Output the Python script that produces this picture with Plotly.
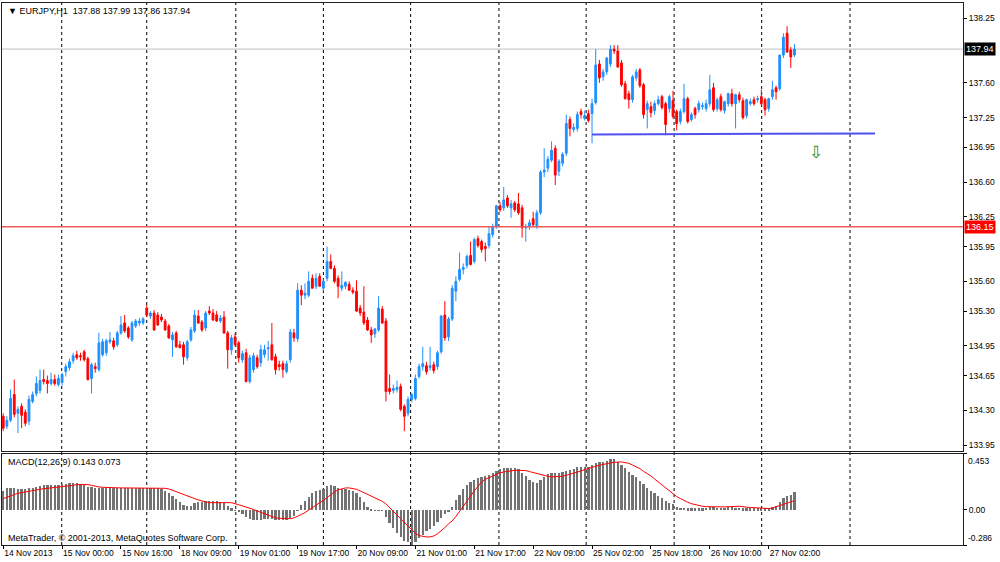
import plotly.graph_objects as go
from plotly.subplots import make_subplots

# EURJPY H1 candles, 14 Nov 2013 08:00 .. 27 Nov 2013 09:00 (bar index 0..215)
open_ = [
    134.24, 134.14, 134.20, 134.46, 134.27, 134.34, 134.28, 134.19, 134.39, 134.47,
    134.50, 134.61, 134.60, 134.57, 134.61, 134.56, 134.58, 134.69, 134.73, 134.80,
    134.86, 134.85, 134.89, 134.82, 134.62, 134.74, 134.71, 134.86, 134.88, 134.99,
    135.00, 134.96, 135.08, 135.18, 135.13, 135.01, 135.15, 135.18, 135.18, 135.33,
    135.25, 135.28, 135.26, 135.24, 135.20, 135.15, 135.01, 135.08, 134.96, 134.96,
    134.83, 135.01, 135.10, 135.25, 135.19, 135.13, 135.30, 135.28, 135.26, 135.20,
    135.24, 135.08, 134.91, 135.04, 134.98, 134.81, 134.88, 134.59, 134.71, 134.83,
    134.78, 134.86, 134.92, 134.96, 134.84, 134.76, 134.77, 134.69, 134.81, 135.08,
    135.02, 135.51, 135.46, 135.46, 135.63, 135.55, 135.65, 135.53, 135.63, 135.80,
    135.73, 135.63, 135.53, 135.55, 135.57, 135.51, 135.50, 135.33, 135.29, 135.21,
    135.11, 135.07, 135.11, 135.32, 135.20, 134.52, 134.50, 134.51, 134.54, 134.34,
    134.27, 134.41, 134.42, 134.64, 134.74, 134.75, 134.73, 134.76, 134.74, 134.89,
    135.26, 135.04, 135.22, 135.50, 135.62, 135.72, 135.76, 135.86, 135.80, 136.03,
    136.00, 135.95, 135.96, 136.07, 136.15, 136.36, 136.34, 136.44, 136.34, 136.39,
    136.38, 136.34, 136.14, 136.15, 136.23, 136.15, 136.29, 136.70, 136.74, 136.82,
    136.94, 136.71, 136.79, 136.89, 137.23, 137.13, 137.14, 137.31, 137.24, 137.29,
    137.29, 137.40, 137.79, 137.66, 137.71, 137.79, 137.94, 137.92, 137.80, 137.59,
    137.49, 137.43, 137.65, 137.73, 137.58, 137.33, 137.36, 137.32, 137.39, 137.46,
    137.39, 137.34, 137.42, 137.31, 137.21, 137.31, 137.44, 137.23, 137.34, 137.33,
    137.36, 137.34, 137.39, 137.55, 137.34, 137.46, 137.32, 137.39, 137.49, 137.39,
    137.48, 137.42, 137.27, 137.39, 137.43, 137.43, 137.46, 137.43, 137.34, 137.46,
    137.55, 137.54, 137.88, 138.10, 137.93, 137.88,
]
high = [
    134.27, 134.24, 134.51, 134.61, 134.34, 134.37, 134.31, 134.45, 134.49, 134.64,
    134.71, 134.71, 134.65, 134.68, 134.66, 134.66, 134.68, 134.77, 134.82, 134.88,
    134.90, 134.88, 134.91, 134.84, 134.78, 134.78, 135.08, 135.02, 135.02, 135.09,
    135.03, 135.10, 135.25, 135.26, 135.15, 135.20, 135.22, 135.23, 135.24, 135.36,
    135.30, 135.31, 135.29, 135.27, 135.22, 135.17, 135.09, 135.10, 135.00, 134.99,
    135.01, 135.14, 135.31, 135.31, 135.21, 135.30, 135.35, 135.32, 135.30, 135.26,
    135.30, 135.10, 135.06, 135.08, 135.00, 134.90, 134.92, 134.86, 134.88, 134.86,
    134.96, 134.96, 135.00, 135.18, 134.87, 134.80, 134.80, 134.80, 135.12, 135.12,
    135.58, 135.56, 135.58, 135.70, 135.67, 135.68, 135.68, 135.62, 135.95, 135.87,
    135.76, 135.66, 135.70, 135.60, 135.60, 135.54, 135.61, 135.36, 135.55, 135.24,
    135.14, 135.13, 135.45, 135.35, 135.23, 134.66, 134.56, 134.60, 134.57, 134.36,
    134.44, 134.47, 134.66, 134.77, 134.94, 134.79, 134.94, 134.79, 134.90, 135.26,
    135.40, 135.24, 135.56, 135.65, 135.89, 135.78, 135.87, 136.00, 136.04, 136.06,
    136.02, 135.99, 136.15, 136.18, 136.37, 136.40, 136.55, 136.47, 136.42, 136.41,
    136.49, 136.37, 136.18, 136.22, 136.30, 136.32, 136.72, 136.94, 136.86, 137.01,
    136.97, 136.83, 136.90, 137.28, 137.26, 137.19, 137.31, 137.34, 137.32, 137.33,
    137.44, 137.94, 137.83, 137.74, 137.86, 137.98, 137.98, 137.98, 137.83, 137.62,
    137.52, 137.68, 137.74, 137.75, 137.60, 137.42, 137.41, 137.42, 137.47, 137.48,
    137.41, 137.48, 137.52, 137.33, 137.34, 137.59, 137.46, 137.30, 137.36, 137.42,
    137.40, 137.43, 137.68, 137.60, 137.45, 137.49, 137.42, 137.50, 137.54, 137.49,
    137.51, 137.45, 137.44, 137.44, 137.46, 137.47, 137.53, 137.45, 137.45, 137.62,
    137.57, 137.88, 138.10, 138.17, 137.96, 137.99,
]
low = [
    134.09, 134.11, 134.18, 134.23, 134.07, 134.12, 134.14, 134.15, 134.37, 134.44,
    134.47, 134.56, 134.47, 134.55, 134.55, 134.54, 134.55, 134.64, 134.70, 134.77,
    134.81, 134.80, 134.79, 134.60, 134.47, 134.68, 134.69, 134.84, 134.85, 134.97,
    134.91, 134.94, 135.06, 135.08, 135.02, 134.99, 135.13, 135.15, 135.16, 135.24,
    135.22, 135.10, 135.15, 135.19, 135.10, 135.02, 134.84, 134.93, 134.93, 134.76,
    134.80, 134.99, 135.08, 135.17, 135.09, 135.10, 135.26, 135.20, 135.19, 135.18,
    135.07, 134.72, 134.86, 134.94, 134.78, 134.78, 134.58, 134.57, 134.68, 134.72,
    134.74, 134.83, 134.80, 134.80, 134.66, 134.70, 134.63, 134.67, 134.78, 134.99,
    134.99, 135.36, 135.42, 135.44, 135.53, 135.52, 135.55, 135.50, 135.60, 135.72,
    135.58, 135.43, 135.50, 135.52, 135.51, 135.47, 135.29, 135.25, 135.16, 135.10,
    134.98, 135.03, 135.09, 135.17, 134.39, 134.46, 134.47, 134.48, 134.29, 134.09,
    134.24, 134.38, 134.40, 134.62, 134.70, 134.66, 134.70, 134.67, 134.71, 134.87,
    135.00, 135.00, 135.20, 135.40, 135.60, 135.67, 135.73, 135.76, 135.78, 135.94,
    135.89, 135.80, 135.93, 136.04, 136.13, 136.30, 136.31, 136.34, 136.24, 136.30,
    136.27, 136.04, 136.00, 136.12, 136.15, 136.13, 136.27, 136.65, 136.70, 136.80,
    136.57, 136.66, 136.76, 136.86, 137.06, 137.10, 137.11, 137.24, 137.22, 137.20,
    136.99, 137.38, 137.60, 137.62, 137.68, 137.76, 137.89, 137.75, 137.56, 137.43,
    137.34, 137.40, 137.62, 137.55, 137.24, 137.14, 137.25, 137.28, 137.37, 137.33,
    137.07, 137.30, 137.24, 137.12, 137.18, 137.29, 137.19, 137.21, 137.24, 137.30,
    137.33, 137.31, 137.36, 137.31, 137.31, 137.31, 137.29, 137.36, 137.36, 137.14,
    137.40, 137.23, 137.24, 137.37, 137.37, 137.40, 137.37, 137.27, 137.31, 137.43,
    137.43, 137.52, 137.85, 137.90, 137.75, 137.86,
]
close = [
    134.12, 134.20, 134.42, 134.26, 134.31, 134.25, 134.17, 134.41, 134.46, 134.57,
    134.60, 134.59, 134.57, 134.61, 134.57, 134.62, 134.66, 134.74, 134.79, 134.85,
    134.83, 134.84, 134.81, 134.61, 134.76, 134.72, 134.98, 134.99, 135.00, 135.01,
    134.94, 135.08, 135.16, 135.10, 135.04, 135.18, 135.20, 135.20, 135.22, 135.26,
    135.28, 135.11, 135.16, 135.21, 135.11, 135.03, 135.06, 134.94, 134.93, 134.84,
    134.99, 135.11, 135.26, 135.18, 135.11, 135.28, 135.28, 135.21, 135.20, 135.23,
    135.08, 134.91, 135.03, 134.96, 134.83, 134.87, 134.59, 134.83, 134.85, 134.74,
    134.91, 134.91, 134.93, 134.81, 134.71, 134.74, 134.71, 134.77, 135.09, 135.03,
    135.51, 135.46, 135.48, 135.60, 135.53, 135.63, 135.55, 135.60, 135.80, 135.73,
    135.60, 135.55, 135.56, 135.59, 135.51, 135.49, 135.30, 135.28, 135.18, 135.11,
    135.06, 135.12, 135.33, 135.18, 134.49, 134.49, 134.52, 134.53, 134.31, 134.24,
    134.41, 134.46, 134.62, 134.74, 134.77, 134.69, 134.75, 134.70, 134.88, 135.25,
    135.03, 135.22, 135.53, 135.60, 135.72, 135.74, 135.85, 135.77, 136.02, 135.96,
    135.92, 135.93, 136.08, 136.15, 136.36, 136.32, 136.42, 136.36, 136.38, 136.32,
    136.29, 136.14, 136.15, 136.19, 136.17, 136.29, 136.70, 136.72, 136.83, 136.92,
    136.67, 136.81, 136.88, 137.19, 137.14, 137.15, 137.28, 137.28, 137.27, 137.22,
    137.39, 137.78, 137.65, 137.71, 137.85, 137.94, 137.92, 137.76, 137.58, 137.44,
    137.43, 137.66, 137.71, 137.57, 137.28, 137.39, 137.30, 137.39, 137.43, 137.35,
    137.18, 137.46, 137.26, 137.19, 137.31, 137.44, 137.21, 137.28, 137.28, 137.39,
    137.37, 137.39, 137.53, 137.33, 137.43, 137.33, 137.41, 137.49, 137.39, 137.48,
    137.43, 137.25, 137.43, 137.41, 137.39, 137.44, 137.39, 137.33, 137.44, 137.53,
    137.51, 137.88, 138.06, 137.91, 137.86, 137.94,
]

# MACD(12,26,9): histogram and signal line
macd_hist = [
    0.156, 0.175, 0.175, 0.175, 0.169, 0.169, 0.169, 0.175, 0.175, 0.183,
    0.196, 0.202, 0.202, 0.202, 0.202, 0.202, 0.207, 0.213, 0.215, 0.218,
    0.215, 0.213, 0.204, 0.188, 0.183, 0.175, 0.175, 0.178, 0.178, 0.178,
    0.175, 0.178, 0.178, 0.180, 0.180, 0.178, 0.178, 0.178, 0.178, 0.180,
    0.180, 0.175, 0.175, 0.169, 0.156, 0.137, 0.116, 0.089, 0.062, 0.040,
    0.030, 0.035, 0.054, 0.062, 0.067, 0.070, 0.073, 0.073, 0.070, 0.067,
    0.054, 0.030, 0.013, -0.003, -0.013, -0.032, -0.059, -0.073, -0.078, -0.081,
    -0.078, -0.073, -0.073, -0.073, -0.078, -0.078, -0.078, -0.078, -0.067, -0.046,
    -0.005, 0.040, 0.075, 0.108, 0.137, 0.156, 0.164, 0.169, 0.196, 0.202,
    0.191, 0.178, 0.169, 0.169, 0.164, 0.156, 0.137, 0.102, 0.062, 0.022,
    0.003, -0.005, -0.005, -0.005, -0.059, -0.105, -0.148, -0.186, -0.215, -0.247,
    -0.261, -0.286, -0.256, -0.229, -0.199, -0.172, -0.153, -0.126, -0.094, -0.062,
    -0.035, -0.011, 0.022, 0.081, 0.124, 0.169, 0.202, 0.223, 0.247, 0.258,
    0.266, 0.274, 0.285, 0.296, 0.315, 0.331, 0.336, 0.336, 0.336, 0.336,
    0.328, 0.299, 0.272, 0.242, 0.226, 0.221, 0.239, 0.269, 0.293, 0.299,
    0.299, 0.299, 0.304, 0.315, 0.325, 0.334, 0.344, 0.350, 0.350, 0.347,
    0.363, 0.377, 0.385, 0.390, 0.398, 0.412, 0.412, 0.390, 0.366, 0.336,
    0.309, 0.285, 0.266, 0.237, 0.207, 0.180, 0.153, 0.137, 0.116, 0.097,
    0.075, 0.056, 0.046, 0.024, 0.019, 0.019, 0.016, 0.013, 0.013, 0.013,
    0.016, 0.019, 0.022, 0.022, 0.019, 0.019, 0.019, 0.022, 0.022, 0.019,
    0.019, 0.016, 0.016, 0.016, 0.016, 0.016, 0.016, 0.013, 0.013, 0.022,
    0.030, 0.062, 0.097, 0.113, 0.121, 0.143,
]
macd_signal = [
    0.089, 0.100, 0.110, 0.124, 0.132, 0.137, 0.143, 0.148, 0.153, 0.159,
    0.164, 0.169, 0.172, 0.175, 0.178, 0.180, 0.186, 0.188, 0.191, 0.196,
    0.202, 0.204, 0.204, 0.202, 0.196, 0.188, 0.183, 0.180, 0.178, 0.175,
    0.175, 0.175, 0.175, 0.175, 0.175, 0.175, 0.175, 0.175, 0.175, 0.175,
    0.175, 0.175, 0.175, 0.175, 0.172, 0.167, 0.156, 0.145, 0.132, 0.118,
    0.108, 0.097, 0.086, 0.078, 0.070, 0.062, 0.056, 0.056, 0.056, 0.059,
    0.062, 0.062, 0.056, 0.048, 0.040, 0.030, 0.022, 0.011, 0.000, -0.011,
    -0.024, -0.035, -0.046, -0.059, -0.067, -0.070, -0.073, -0.073, -0.073, -0.067,
    -0.056, -0.040, -0.024, -0.005, 0.013, 0.035, 0.056, 0.075, 0.097, 0.121,
    0.143, 0.159, 0.169, 0.175, 0.175, 0.172, 0.164, 0.151, 0.137, 0.124,
    0.110, 0.097, 0.083, 0.067, 0.046, 0.019, -0.011, -0.043, -0.075, -0.105,
    -0.137, -0.167, -0.191, -0.210, -0.218, -0.221, -0.221, -0.213, -0.196, -0.172,
    -0.145, -0.116, -0.091, -0.056, -0.013, 0.022, 0.067, 0.110, 0.151, 0.188,
    0.223, 0.245, 0.258, 0.272, 0.285, 0.296, 0.304, 0.309, 0.315, 0.317,
    0.317, 0.317, 0.315, 0.307, 0.299, 0.288, 0.280, 0.274, 0.269, 0.264,
    0.264, 0.266, 0.269, 0.277, 0.285, 0.291, 0.301, 0.312, 0.323, 0.334,
    0.342, 0.350, 0.358, 0.366, 0.371, 0.377, 0.382, 0.385, 0.385, 0.379,
    0.374, 0.360, 0.347, 0.331, 0.309, 0.291, 0.272, 0.247, 0.223, 0.196,
    0.172, 0.148, 0.124, 0.105, 0.089, 0.073, 0.059, 0.048, 0.040, 0.032,
    0.027, 0.024, 0.022, 0.022, 0.022, 0.022, 0.022, 0.024, 0.024, 0.024,
    0.027, 0.024, 0.019, 0.016, 0.016, 0.013, 0.013, 0.011, 0.008, 0.013,
    0.022, 0.030, 0.040, 0.051, 0.062, 0.073,
]

bars = list(range(len(close)))

# time scale labels (bar index -> text)
time_idx = [0, 16, 32, 48, 64, 80, 96, 112, 128, 144, 160, 176, 192, 208]
time_labels = ["14 Nov 2013", "15 Nov 00:00", "15 Nov 16:00", "18 Nov 09:00",
               "19 Nov 01:00", "19 Nov 17:00", "20 Nov 09:00", "21 Nov 01:00",
               "21 Nov 17:00", "22 Nov 09:00", "25 Nov 02:00", "25 Nov 18:00",
               "26 Nov 10:00", "27 Nov 02:00"]

price_ticks = [138.25, 137.60, 137.25, 136.95, 136.60, 136.25, 135.95,
               135.60, 135.30, 134.95, 134.65, 134.30, 133.95]

bid_price = 137.94
level_price = 136.15
trend_x = [160.0, 236.9]
trend_y = [137.08, 137.09]
arrow_x, arrow_y = 220.9, 136.90

FONT = "Liberation Sans, Arial, sans-serif"

fig = make_subplots(rows=2, cols=1, shared_xaxes=True)

fig.add_trace(go.Candlestick(
    x=bars, open=open_, high=high, low=low, close=close,
    increasing=dict(line=dict(color="#1e90ff", width=1), fillcolor="#1e90ff"),
    decreasing=dict(line=dict(color="#ff0000", width=1), fillcolor="#ff0000"),
    whiskerwidth=0, hoverinfo="skip", showlegend=False
), 1, 1)

fig.add_trace(go.Scatter(x=trend_x, y=trend_y, mode="lines",
                         line=dict(color="#5050f0", width=2),
                         hoverinfo="skip", showlegend=False), 1, 1)

fig.add_trace(go.Bar(x=bars, y=macd_hist, width=0.62,
                     marker=dict(color="#727272", line=dict(width=0)),
                     hoverinfo="skip", showlegend=False), 2, 1)
fig.add_trace(go.Scatter(x=bars, y=macd_signal, mode="lines",
                         line=dict(color="#ff0000", width=1),
                         hoverinfo="skip", showlegend=False), 2, 1)

# vertical dashed grid
for gx in [15.9, 39.0, 63.2, 87.0, 110.7, 134.7, 158.4, 182.3, 206.1, 230.1]:
    fig.add_shape(type="line", xref="x", yref="paper", x0=gx, x1=gx, y0=0, y1=1,
                  line=dict(color="black", width=1, dash="3px,3px"), layer="below")

# bid line and horizontal level
fig.add_shape(type="line", xref="x domain", yref="y", x0=0, x1=1, y0=bid_price, y1=bid_price,
              line=dict(color="#c0c0c0", width=1), layer="below")
fig.add_shape(type="line", xref="x domain", yref="y", x0=0, x1=1, y0=level_price, y1=level_price,
              line=dict(color="#f05a5a", width=1.5))

annotations = [
    dict(text="▼ EURJPY,H1\u00a0\u00a0137.88 137.99 137.86 137.94", xref="paper", yref="paper",
         x=0.004, y=1, xanchor="left", yanchor="top", yshift=-1, showarrow=False,
         font=dict(family=FONT, size=9, color="black")),
    dict(text="MACD(12,26,9) 0.143 0.073", xref="paper", yref="y2 domain",
         x=0.004, y=1, xanchor="left", yanchor="top", yshift=-1, showarrow=False,
         font=dict(family=FONT, size=9, color="black")),
    dict(text="MetaTrader, © 2001-2013, MetaQuotes Software Corp.", xref="paper", yref="y2 domain",
         x=0.004, y=0, xanchor="left", yanchor="bottom", yshift=0, showarrow=False,
         font=dict(family=FONT, size=9, color="black")),
    dict(text="⇩", xref="x", yref="y", x=arrow_x, y=arrow_y, showarrow=False,
         font=dict(family="DejaVu Sans", size=17, color="#1f8f1f")),
    dict(text="137.94", xref="paper", yref="y", x=1, y=bid_price, xanchor="left", xshift=1,
         showarrow=False, bgcolor="black", borderpad=1,
         font=dict(family=FONT, size=9, color="white")),
    dict(text="136.15", xref="paper", yref="y", x=1, y=level_price, xanchor="left", xshift=1,
         showarrow=False, bgcolor="#ff0000", borderpad=1,
         font=dict(family=FONT, size=9, color="white")),
    dict(text="0.453", xref="paper", yref="y2", x=1, y=0.453, xanchor="left", yanchor="top",
         xshift=3, showarrow=False, font=dict(family=FONT, size=8.5, color="black")),
    dict(text="-0.286", xref="paper", yref="y2", x=1, y=-0.286, xanchor="left", yanchor="bottom",
         xshift=3, showarrow=False, font=dict(family=FONT, size=8.5, color="black")),
]

fig.update_layout(
    width=1000, height=562,
    margin=dict(l=2, r=37, t=3, b=17, autoexpand=False),
    paper_bgcolor="white", plot_bgcolor="white",
    showlegend=False, bargap=0,
    font=dict(family=FONT, size=8.5, color="black"),
    annotations=annotations,
)

fig.update_xaxes(range=[-0.33, 260.8], showgrid=False, zeroline=False,
                 showline=True, linecolor="#202020", linewidth=1, mirror=True,
                 rangeslider_visible=False, automargin=False)
fig.update_xaxes(showticklabels=False, ticks="", row=1, col=1)
fig.update_xaxes(tickmode="array", tickvals=time_idx, ticktext=time_labels,
                 ticks="outside", ticklen=3, tickcolor="black", tickangle=0,
                 ticklabelposition="outside right",
                 tickfont=dict(family=FONT, size=8.5, color="black"), row=2, col=1)

fig.update_layout(
    yaxis=dict(domain=[0.1734, 1], range=[133.89, 138.404], side="right",
               tickmode="array", tickvals=price_ticks,
               ticktext=[f"{v:.2f}" for v in price_ticks],
               ticks="outside", ticklen=3, tickcolor="black", automargin=False,
               showgrid=False, zeroline=False, showline=True,
               linecolor="#202020", linewidth=1, mirror=True,
               tickfont=dict(family=FONT, size=8.5, color="black")),
    yaxis2=dict(domain=[0, 0.1688], range=[-0.286, 0.453], side="right",
                tickmode="array", tickvals=[0.453, 0, -0.286], ticktext=["", "0.00", ""],
                ticks="outside", ticklen=3, tickcolor="black", automargin=False,
                showgrid=False, zeroline=False, showline=True,
                linecolor="#202020", linewidth=1, mirror=True,
                tickfont=dict(family=FONT, size=8.5, color="black")),
)

# the page body has a default 8px margin; remove it so the figure fills the window
fig.write_html("out.html", config={"displayModeBar": False},
               post_script="document.body.style.margin='0';document.body.style.padding='0';")
